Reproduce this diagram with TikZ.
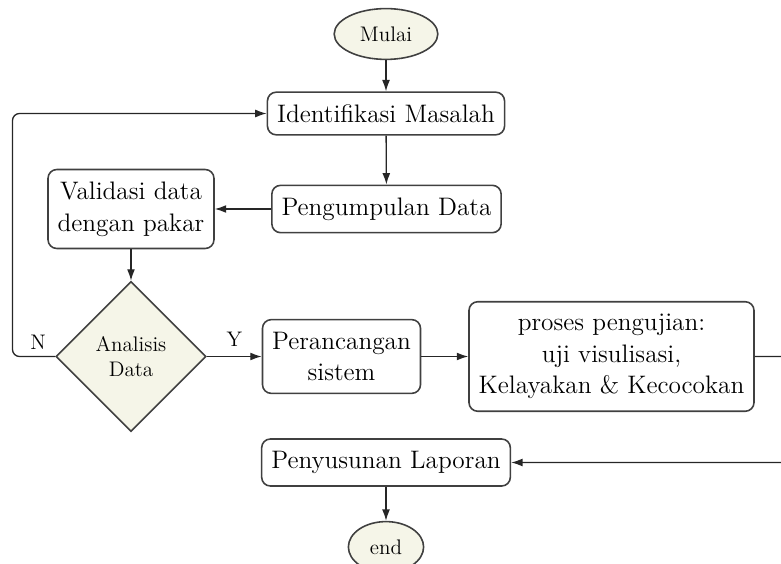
\documentclass[tikz,border=0pt]{standalone}
\usepackage{amsmath}
\usepackage{tikz}
\usetikzlibrary{shapes.geometric, arrows, arrows.meta, shapes, positioning, calc}
\usepackage{xcolor}
\definecolor{krem}{RGB}{245,245,232}
\tikzstyle{kotak} = [rectangle, rounded corners = 5pt, inner xsep = 5.5pt, inner ysep = 7pt, text centered, align = center, draw = black!75, line width = 0.9pt, fill = white, font = \Large]
\tikzstyle{ujung} = [ellipse, inner sep = 6pt, minimum height = 0.94cm, text centered, draw = black!75, line width = 0.9pt, fill = krem, font = \large]
\tikzstyle{keputusan} = [diamond, inner sep = 0pt, minimum width = 3cm, minimum height = 3cm, align = center, draw = black!75, line width = 0.9pt, fill = krem, font = \large]
\tikzstyle{panah} = [-{Latex[length = 6.5pt, width = 4.5pt]}, draw = black!85, line width = 0.75pt]

\begin{document}
\begin{tikzpicture}
\path[use as bounding box, clip] (0,0) rectangle (15.62,-11.26);
\node (mulai) [ujung, xshift = 7.72cm, yshift = -0.68cm] {Mulai};
\node (identifikasi) [kotak, xshift = 7.72cm, yshift = -2.27cm] {Identifikasi Masalah};
\node (pengumpulan) [kotak, xshift = 7.73cm, yshift = -4.18cm] {Pengumpulan Data};
\node (validasi) [kotak, xshift = 2.62cm, yshift = -4.18cm] {Validasi data\\dengan pakar};
\node (analisis) [keputusan, xshift = 2.62cm, yshift = -7.13cm] {Analisis\\Data};
\node (perancangan) [kotak, xshift = 6.83cm, yshift = -7.13cm] {Perancangan\\sistem};
\node (proses) [kotak, xshift = 12.23cm, yshift = -7.13cm] {proses pengujian:\\uji visulisasi,\\Kelayakan \& Kecocokan};
\node (penyusunan) [kotak, xshift = 7.72cm, yshift = -9.25cm] {Penyusunan Laporan};
\node (end) [ujung, xshift = 7.72cm, yshift = -10.94cm] {end};
\coordinate (kiri) at (0.25,-2.27);
\coordinate (kanan) at (16.2,-9.25);
\draw[panah] (mulai) -- (identifikasi);
\draw[panah] (identifikasi) -- (pengumpulan);
\draw[panah] (pengumpulan) -- (validasi);
\draw[panah] (validasi) -- (analisis);
\draw[panah] (analisis) -- node[above = 2pt, font = \large] {Y} (perancangan);
\draw[panah, rounded corners] (analisis.west) -| node[pos = 0.2, above, font = \large] {N} (kiri) -- (identifikasi.west);
\draw[panah] (perancangan) -- (proses);
\draw[panah, rounded corners] (proses.east) -| (kanan) -- (penyusunan.east);
\draw[panah] (penyusunan) -- (end);
\end{tikzpicture}
\end{document}
